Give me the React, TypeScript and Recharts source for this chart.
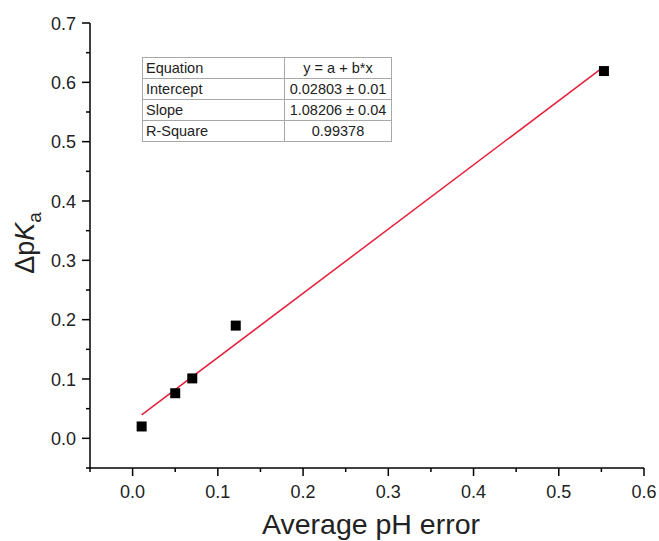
import React from 'react';
import { ScatterChart, Scatter, XAxis, YAxis } from 'recharts';

const avgPhError = [0.0106, 0.05, 0.07, 0.121, 0.553];
const deltaPka = [0.02, 0.076, 0.101, 0.19, 0.619];
const fitX = [0.0106, 0.553];
const fitY = [0.0395, 0.6264];
const xTicks = [-0.05, 0, 0.05, 0.1, 0.15, 0.2, 0.25, 0.3, 0.35, 0.4, 0.45, 0.5, 0.55, 0.6];
const yTicks = [-0.05, 0, 0.05, 0.1, 0.15, 0.2, 0.25, 0.3, 0.35, 0.4, 0.45, 0.5, 0.55, 0.6, 0.65, 0.7];
const tableLabels = ['Equation', 'Intercept', 'Slope', 'R-Square'];
const tableValues = ['y = a + b*x', '0.02803 \u00b1 0.01', '1.08206 \u00b1 0.04', '0.99378'];

const points = avgPhError.map((x, i) => ({ x, y: deltaPka[i] }));
const fitLine = fitX.map((x, i) => ({ x, y: fitY[i] }));

const FONT = '"Liberation Sans", Arial, sans-serif';
const isMajor = (v: number) => Math.abs(v * 10 - Math.round(v * 10)) < 1e-6;

const XTick = (props: any) => {
  const { x, y, payload } = props;
  const v = payload.value;
  const major = isMajor(v);
  return (
    <g>
      <line x1={x} x2={x} y1={y} y2={y + (major ? 8 : 4)} stroke="#000" strokeWidth={1.5} />
      {major && (
        <text x={x} y={y + 30} textAnchor="middle" fontSize={18} fill="#222" fontFamily={FONT}>
          {v.toFixed(1)}
        </text>
      )}
    </g>
  );
};

const YTick = (props: any) => {
  const { x, y, payload } = props;
  const v = payload.value;
  const major = isMajor(v);
  return (
    <g>
      <line x1={x} x2={x - (major ? 8 : 4)} y1={y} y2={y} stroke="#000" strokeWidth={1.5} />
      {major && (
        <text x={x - 14} y={y + 6.5} textAnchor="end" fontSize={18} fill="#222" fontFamily={FONT}>
          {v.toFixed(1)}
        </text>
      )}
    </g>
  );
};

const YLabel = () => (
  <text transform="translate(34, 243) rotate(-90)" textAnchor="middle" fontSize={27} fill="#222" fontFamily={FONT}>
    {'\u0394p'}
    <tspan fontStyle="italic">K</tspan>
    <tspan fontSize={19} dy={7}>a</tspan>
  </text>
);

const XLabel = () => (
  <text x={371} y={534} textAnchor="middle" fontSize={28.5} fill="#222" fontFamily={FONT}>
    Average pH error
  </text>
);

const Square = (props: any) => {
  const { cx, cy } = props;
  return <rect x={cx - 5} y={cy - 5} width={10} height={10} fill="#000" />;
};

const cellBase: React.CSSProperties = {
  border: '1px solid #a8a8a8',
  height: 20,
  padding: '0 3px',
  fontSize: 14.5,
  fontFamily: FONT,
  color: '#222',
  lineHeight: '20px',
  whiteSpace: 'nowrap',
  overflow: 'visible',
};

export default function App() {
  return (
    <div style={{ position: 'absolute', left: 0, top: 0, width: 659, height: 541, background: '#fff' }}>
      <ScatterChart width={659} height={541} margin={{ top: 23, right: 15, bottom: 33, left: 30 }}>
        <XAxis
          type="number"
          dataKey="x"
          domain={[-0.05, 0.6]}
          ticks={xTicks}
          interval={0}
          allowDataOverflow
          tickSize={0}
          tickMargin={0}
          tickLine={false}
          tick={<XTick />}
          height={40}
          axisLine={{ stroke: '#000', strokeWidth: 1.5 }}
          label={{ content: () => <XLabel /> }}
        />
        <YAxis
          type="number"
          dataKey="y"
          domain={[-0.05, 0.7]}
          ticks={yTicks}
          interval={0}
          allowDataOverflow
          tickSize={0}
          tickMargin={0}
          tickLine={false}
          tick={<YTick />}
          width={60}
          axisLine={{ stroke: '#000', strokeWidth: 1.5 }}
          label={{ content: () => <YLabel /> }}
        />
        <Scatter
          data={fitLine}
          line={{ stroke: '#e51f3a', strokeWidth: 1.5 }}
          lineType="joint"
          shape={() => <g />}
          isAnimationActive={false}
        />
        <Scatter data={points} shape={<Square />} isAnimationActive={false} />
      </ScatterChart>
      <table
        style={{
          position: 'absolute',
          left: 142,
          top: 57,
          width: 249,
          borderCollapse: 'collapse',
          background: '#fff',
          tableLayout: 'fixed',
        }}
      >
        <colgroup>
          <col style={{ width: 142 }} />
          <col style={{ width: 107 }} />
        </colgroup>
        <tbody>
          {tableLabels.map((lab, i) => (
            <tr key={lab}>
              <td style={{ ...cellBase, textAlign: 'left' }}>{lab}</td>
              <td style={{ ...cellBase, textAlign: 'center' }}>{tableValues[i]}</td>
            </tr>
          ))}
        </tbody>
      </table>
    </div>
  );
}
